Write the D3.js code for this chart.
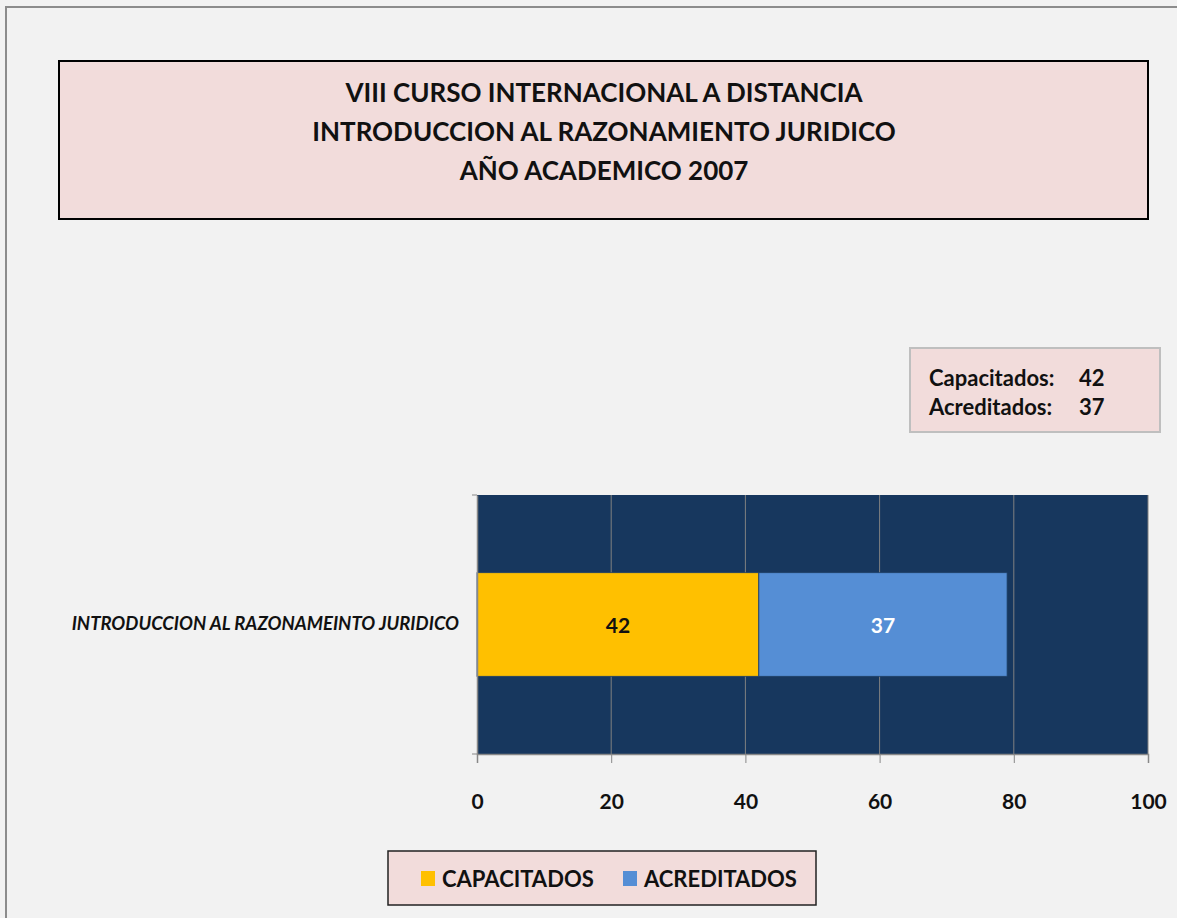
<!DOCTYPE html>
<html>
<head>
<meta charset="utf-8">
<script src="https://cdn.jsdelivr.net/npm/d3@7"></script>
<style>
	body { margin: 0; background: #f2f2f2; }
	svg { display: block; font-family: Lato, "Open Sans", sans-serif; }
</style>
</head>
<body>
<div id="chart"></div>
<script>

var titleLines = ["VIII CURSO INTERNACIONAL A DISTANCIA", "INTRODUCCION AL RAZONAMIENTO JURIDICO", "AÑO ACADEMICO 2007"];
var categories = ["INTRODUCCION AL RAZONAMEINTO JURIDICO"];
var seriesNames = ["CAPACITADOS", "ACREDITADOS"];
var capacitados = [42];
var acreditados = [37];
var xTicks = [0, 20, 40, 60, 80, 100];
var boxLabels = ["Capacitados:", "Acreditados:"];
var colors = ["#ffc000", "#558ed5"];


var W = 1177, H = 918;

var svg = d3.select("#chart").append("svg")
	.attr("width", W)
	.attr("height", H);

// outer frame
svg.append("rect")
	.attr("x", 6).attr("y", 7)
	.attr("width", W + 10).attr("height", H + 10)
	.attr("fill", "#f2f2f2")
	.attr("stroke", "#8c8c8c")
	.attr("stroke-width", 2);

// title box
svg.append("rect")
	.attr("x", 59).attr("y", 61)
	.attr("width", 1089).attr("height", 158)
	.attr("fill", "#f2dcdb")
	.attr("stroke", "#000")
	.attr("stroke-width", 2);

svg.append("g")
	.selectAll("text")
	.data(titleLines)
	.join("text")
	.attr("x", 604)
	.attr("y", function(d, i) { return 102 + i * 39; })
	.attr("text-anchor", "middle")
	.attr("font-size", 26)
	.attr("font-weight", "bold")
	.attr("fill", "#111")
	.text(function(d) { return d; });

// plot
var plot = { left: 477, right: 1148, top: 495, bottom: 754 };

var x = d3.scaleLinear()
	.domain([0, 100])
	.range([plot.left, plot.right]);

var y = d3.scaleBand()
	.domain(categories)
	.range([plot.top, plot.bottom])
	.paddingInner(0.6)
	.paddingOuter(0.3);

svg.append("rect")
	.attr("x", plot.left).attr("y", plot.top)
	.attr("width", plot.right - plot.left)
	.attr("height", plot.bottom - plot.top)
	.attr("fill", "#17375e");

// gridlines
svg.append("g")
	.selectAll("line")
	.data(xTicks.slice(1))
	.join("line")
	.attr("x1", function(d) { return x(d); })
	.attr("x2", function(d) { return x(d); })
	.attr("y1", plot.top)
	.attr("y2", plot.bottom)
	.attr("stroke", "#808080")
	.attr("stroke-width", 1);

var stack = d3.stack().keys([0, 1])
	.value(function(d, k) { return [capacitados, acreditados][k][d]; });
var stacked = stack(d3.range(categories.length));

var layers = svg.append("g")
	.selectAll("g")
	.data(stacked)
	.join("g")
	.attr("fill", function(d, i) { return colors[i]; });

layers.selectAll("rect")
	.data(function(d) { return d; })
	.join("rect")
	.attr("x", function(d) { return x(d[0]); })
	.attr("y", function(d, i) { return y(categories[i]); })
	.attr("width", function(d) { return x(d[1]) - x(d[0]); })
	.attr("height", y.bandwidth())
	.attr("stroke", "#1f3f66")
	.attr("stroke-width", 0.8);

layers.selectAll("text")
	.data(function(d) { return d; })
	.join("text")
	.attr("x", function(d) { return (x(d[0]) + x(d[1])) / 2; })
	.attr("y", function(d, i) { return y(categories[i]) + y.bandwidth() / 2 + 8; })
	.attr("text-anchor", "middle")
	.attr("font-size", 21)
	.attr("font-weight", "bold")
	.attr("fill", function() { return d3.select(this.parentNode).datum().key === 0 ? "#111" : "#fff"; })
	.text(function(d) { return d[1] - d[0]; });

// x axis
var xAxis = svg.append("g")
	.attr("transform", "translate(0," + plot.bottom + ")")
	.call(d3.axisBottom(x).tickValues(xTicks).tickSize(9).tickPadding(31));
xAxis.select(".domain").attr("stroke", "#888").attr("stroke-width", 1.5);
xAxis.selectAll(".tick line").attr("stroke", "#888");
xAxis.selectAll("text")
	.attr("font-size", 21)
	.attr("font-weight", "bold")
	.attr("fill", "#111")
	.attr("font-family", "Lato, 'Open Sans', sans-serif");

// y axis
var yAxis = svg.append("g")
	.attr("transform", "translate(" + plot.left + ",0)")
	.call(d3.axisLeft(y).tickSize(0).tickPadding(18));
yAxis.select(".domain").attr("stroke", "#888").attr("stroke-width", 1.5);
yAxis.selectAll("text")
	.attr("font-size", 18.5)
	.attr("font-style", "italic")
	.attr("font-weight", "bold")
	.attr("fill", "#111")
	.attr("font-family", "Lato, 'Open Sans', sans-serif");

svg.append("g")
	.selectAll("line")
	.data([plot.top, plot.bottom])
	.join("line")
	.attr("x1", plot.left - 5).attr("x2", plot.left)
	.attr("y1", function(d) { return d; })
	.attr("y2", function(d) { return d; })
	.attr("stroke", "#888");

// values box
svg.append("rect")
	.attr("x", 910).attr("y", 348)
	.attr("width", 250).attr("height", 84)
	.attr("fill", "#f2dcdb")
	.attr("stroke", "#bfbfbf")
	.attr("stroke-width", 2);

var boxVals = [capacitados[0], acreditados[0]];
var boxRows = svg.append("g")
	.selectAll("g")
	.data(boxLabels)
	.join("g")
	.attr("font-size", 22)
	.attr("font-weight", "bold")
	.attr("fill", "#111");
boxRows.append("text")
	.attr("x", 929)
	.attr("y", function(d, i) { return 386 + i * 29; })
	.text(function(d) { return d; });
boxRows.append("text")
	.attr("x", 1079)
	.attr("y", function(d, i) { return 386 + i * 29; })
	.text(function(d, i) { return boxVals[i]; });

// legend
svg.append("rect")
	.attr("x", 388).attr("y", 851)
	.attr("width", 428).attr("height", 54)
	.attr("fill", "#f2dcdb")
	.attr("stroke", "#222")
	.attr("stroke-width", 1.5);

var legendX = [421, 623];
var leg = svg.append("g")
	.selectAll("g")
	.data(seriesNames)
	.join("g")
	.attr("transform", function(d, i) { return "translate(" + legendX[i] + ",871)"; });
leg.append("rect")
	.attr("width", 14).attr("height", 15)
	.attr("fill", function(d, i) { return colors[i]; });
leg.append("text")
	.attr("x", 21).attr("y", 16)
	.attr("font-size", 22)
	.attr("font-weight", "bold")
	.attr("fill", "#111")
	.text(function(d) { return d; });

</script>
</body>
</html>
